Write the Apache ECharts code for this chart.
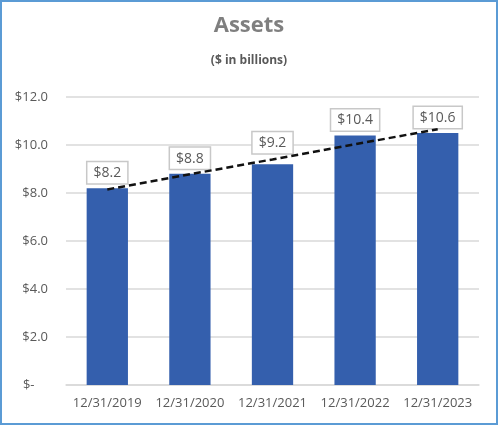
<!DOCTYPE html>
<html>
<head>
<meta charset="utf-8">
<script src="https://cdn.jsdelivr.net/npm/echarts@6/dist/echarts.min.js"></script>
<style>
  html, body { margin: 0; padding: 0; background: #fff; }
  #chart { width: 498px; height: 425px; }
</style>
</head>
<body>
<div id="chart"></div>
<script>
// values ($ in billions)
var categories = ['12/31/2019', '12/31/2020', '12/31/2021', '12/31/2022', '12/31/2023'];
var assets = [8.2, 8.8, 9.2, 10.4, 10.5];
var assetLabels = ['$8.2', '$8.8', '$9.2', '$10.4', '$10.6'];
var trend = [8.15, 8.78, 9.4, 10.03, 10.66];
var yTicks = [0, 2, 4, 6, 8, 10, 12];

var grey = '#595959';
var myChart = echarts.init(document.getElementById('chart'));

var barData = assets.map(function (v, i) {
  var item = { value: v };
  // the 2021 label sits a bit higher in the original (moved off the trendline)
  if (i === 2) item.label = { distance: 11 };
  return item;
});

var option = {
  animation: false,
  textStyle: { fontFamily: 'Open Sans, Noto Sans, sans-serif' },
  title: [{
    text: 'Assets',
    left: 'center',
    top: 10,
    textStyle: { fontSize: 22, fontWeight: 'bold', color: '#7f7f7f', fontFamily: 'Open Sans' }
  }, {
    text: '($ in billions)',
    left: 'center',
    top: 50,
    textStyle: { fontSize: 12, fontWeight: 'bold', color: grey, fontFamily: 'Open Sans' }
  }],
  graphic: [{
    type: 'rect',
    shape: { x: 1, y: 1, width: 496, height: 423 },
    style: { fill: 'none', stroke: '#5B9BD5', lineWidth: 2 },
    silent: true
  }],
  grid: { left: 66, right: 19, top: 97, bottom: 40 },
  xAxis: {
    type: 'category',
    data: categories,
    axisTick: { show: false },
    axisLine: { lineStyle: { color: '#d9d9d9', width: 1.5 } },
    axisLabel: { color: grey, fontSize: 13, margin: 12, interval: 0, hideOverlap: false }
  },
  yAxis: {
    type: 'value',
    min: yTicks[0],
    max: yTicks[yTicks.length - 1],
    interval: yTicks[1] - yTicks[0],
    axisLine: { show: false },
    axisTick: { show: false },
    splitLine: { lineStyle: { color: '#d9d9d9', width: 1.5 } },
    axisLabel: {
      color: grey,
      fontSize: 13,
      margin: 18,
      formatter: function (v) { return v === 0 ? '$-    ' : '$' + v.toFixed(1); }
    }
  },
  series: [{
    name: 'Assets',
    type: 'bar',
    data: barData,
    barWidth: '50%',
    itemStyle: { color: '#345FAD' },
    label: {
      show: true,
      position: 'top',
      distance: 5,
      formatter: function (p) { return assetLabels[p.dataIndex]; },
      color: grey,
      fontSize: 14,
      backgroundColor: '#fff',
      borderColor: '#c8c8c8',
      borderWidth: 1.5,
      padding: [4, 6, 3, 6]
    },
    z: 2
  }, {
    name: 'Trend',
    type: 'line',
    data: trend,
    symbol: 'none',
    lineStyle: { color: '#111', width: 2.5, type: [7, 4] },
    z: 3
  }]
};
myChart.setOption(option);
</script>
</body>
</html>
